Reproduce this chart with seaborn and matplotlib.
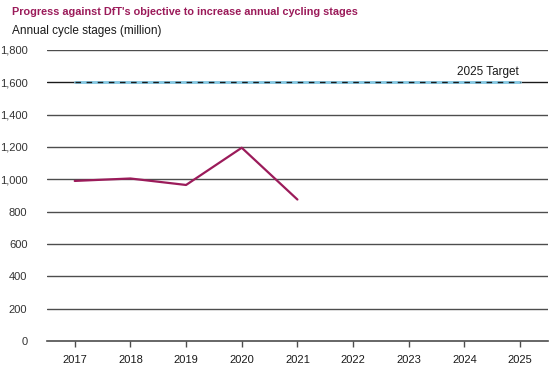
import numpy as np
import pandas as pd
import matplotlib
matplotlib.use("Agg")
import matplotlib.pyplot as plt
import seaborn as sns

# Data
years = [2017, 2018, 2019, 2020, 2021]
stages = [990, 1005, 965, 1195, 875]
target_years = [2017, 2025]
target_value = 1600
all_years = list(range(2017, 2026))
y_ticks = list(range(0, 2000, 200))

df = pd.DataFrame({"year": years, "stages": stages})
target = pd.DataFrame({"year": target_years, "stages": [target_value] * 2})

sns.set_theme(style="white")
plt.rcParams["font.family"] = ["Liberation Sans", "DejaVu Sans"]

fig = plt.figure(figsize=(5.58, 3.72), dpi=100)
ax = fig.add_axes([0.084, 0.083, 0.898, 0.783])

# horizontal grid
for y in y_ticks[1:]:
    ax.axhline(y, color="#4d4d4d" if y != 1600 else "#1a1a1a", lw=1.0, zorder=1)

# target line: light blue with black dashes on top
sns.lineplot(data=target, x="year", y="stages", ax=ax, color="#86cbe6", lw=2.0, zorder=2)
sns.lineplot(data=target, x="year", y="stages", ax=ax, color="#1a1a1a", lw=1.0,
             linestyle=(0, (4, 4)), zorder=3)

sns.lineplot(data=df, x="year", y="stages", ax=ax, color="#9b1b5a", lw=1.6, zorder=4)

ax.text(2024.98, 1625, "2025 Target", ha="right", va="bottom", fontsize=8.5, color="#1a1a1a")

ax.set_xlim(2016.5, 2025.5)
ax.set_ylim(0, 1800)
ax.set_xticks(all_years)
ax.set_xticklabels([str(y) for y in all_years], fontsize=8, color="#1a1a1a")
ax.set_yticks(y_ticks)
ax.set_yticklabels([f"{y:,}" for y in y_ticks], fontsize=8, color="#333333")
ax.set_xlabel("")
ax.set_ylabel("")

for s in ["top", "right", "left"]:
    ax.spines[s].set_visible(False)
ax.spines["bottom"].set_color("#4d4d4d")
ax.spines["bottom"].set_linewidth(1.2)
ax.spines["bottom"].set_zorder(5)
ax.tick_params(axis="x", bottom=True, length=4, width=1, color="#4d4d4d", pad=6)
ax.tick_params(axis="y", left=False, pad=8)

fig.text(0.022, 0.967, "Progress against DfT's objective to increase annual cycling stages",
         fontsize=7.8, color="#9b1b5a", fontweight="bold", va="center")
fig.text(0.022, 0.918, "Annual cycle stages (million)", fontsize=8.5, color="#1a1a1a", va="center")

fig.savefig("out.png", dpi=100)
